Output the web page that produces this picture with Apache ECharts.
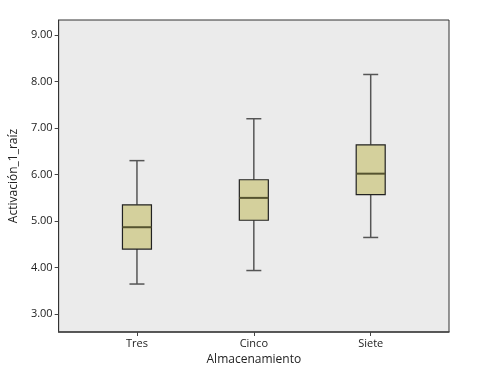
<!DOCTYPE html>
<html>
<head>
<meta charset="utf-8">
<script src="https://cdn.jsdelivr.net/npm/echarts@6/dist/echarts.min.js"></script>
<style>
html, body { margin: 0; padding: 0; background: #fff; }
#chart { width: 477px; height: 376px; }
</style>
</head>
<body>
<div id="chart"></div>
<script>
// grupos y posicion en el eje x
var categorias = ['Tres', 'Cinco', 'Siete'];
var posiciones = [1, 2, 3];

// [min, Q1, mediana, Q3, max] de cada grupo
var minimos  = [3.65, 3.94, 4.65];
var q1       = [4.40, 5.02, 5.57];
var medianas = [4.87, 5.50, 6.02];
var q3       = [5.35, 5.89, 6.64];
var maximos  = [6.30, 7.20, 8.15];

var yTicks = [3, 4, 5, 6, 7, 8, 9];

var cajas = [];
for (var i = 0; i < categorias.length; i++) {
    cajas.push([posiciones[i], minimos[i], q1[i], medianas[i], q3[i], maximos[i]]);
}

var anchoCaja = 29;
var anchoTope = 15;

function dibujarCaja(params, api) {
    var x = api.value(0);
    var pMin = api.coord([x, api.value(1)]);
    var pQ1 = api.coord([x, api.value(2)]);
    var pMed = api.coord([x, api.value(3)]);
    var pQ3 = api.coord([x, api.value(4)]);
    var pMax = api.coord([x, api.value(5)]);
    var cx = pMin[0];
    var hb = anchoCaja / 2, ht = anchoTope / 2;
    var bigote = { stroke: '#555', lineWidth: 1.5 };
    return {
        type: 'group',
        children: [
            { type: 'line', shape: { x1: cx, y1: pQ3[1], x2: cx, y2: pMax[1] }, style: bigote },
            { type: 'line', shape: { x1: cx, y1: pQ1[1], x2: cx, y2: pMin[1] }, style: bigote },
            { type: 'line', shape: { x1: cx - ht, y1: pMax[1], x2: cx + ht, y2: pMax[1] }, style: bigote },
            { type: 'line', shape: { x1: cx - ht, y1: pMin[1], x2: cx + ht, y2: pMin[1] }, style: bigote },
            { type: 'rect', shape: { x: cx - hb, y: pQ3[1], width: anchoCaja, height: pQ1[1] - pQ3[1] },
              style: { fill: '#d4d09c', stroke: '#222', lineWidth: 1.2 } },
            { type: 'line', shape: { x1: cx - hb, y1: pMed[1], x2: cx + hb, y2: pMed[1] },
              style: { stroke: '#55532f', lineWidth: 2 } }
        ]
    };
}

var myChart = echarts.init(document.getElementById('chart'));

var option = {
    backgroundColor: '#fff',
    animation: false,
    textStyle: { fontFamily: 'Open Sans', color: '#222' },
    grid: {
        left: 57, top: 20, right: 28, bottom: 44,
        show: true,
        backgroundColor: '#ebebeb',
        borderColor: '#333',
        borderWidth: 1
    },
    xAxis: {
        type: 'value',
        min: 0.33,
        max: 3.67,
        name: 'Almacenamiento',
        nameLocation: 'middle',
        nameGap: 19,
        nameTextStyle: { fontSize: 12, color: '#222' },
        splitLine: { show: false },
        axisLine: { show: true, lineStyle: { color: '#444', width: 1.5 } },
        axisTick: { show: true, length: 4, customValues: posiciones, lineStyle: { color: '#444' } },
        axisLabel: {
            customValues: posiciones,
            margin: 6,
            fontSize: 11,
            color: '#222',
            formatter: function (v) { return categorias[Math.round(v) - 1] || ''; }
        }
    },
    yAxis: {
        type: 'value',
        min: 2.62,
        max: 9.32,
        name: 'Activación_1_raíz',
        nameLocation: 'middle',
        nameGap: 26,
        nameTextStyle: { fontSize: 12, color: '#222' },
        splitLine: { show: false },
        axisLine: { show: true, lineStyle: { color: '#333' } },
        axisTick: { show: true, length: 4, customValues: yTicks, lineStyle: { color: '#444' } },
        axisLabel: {
            customValues: yTicks,
            margin: 6,
            fontSize: 11,
            color: '#222',
            formatter: function (v) { return v.toFixed(2); }
        }
    },
    series: [{
        type: 'custom',
        renderItem: dibujarCaja,
        encode: { x: 0, y: [1, 2, 3, 4, 5] },
        data: cajas
    }]
};

myChart.setOption(option);
</script>
</body>
</html>
